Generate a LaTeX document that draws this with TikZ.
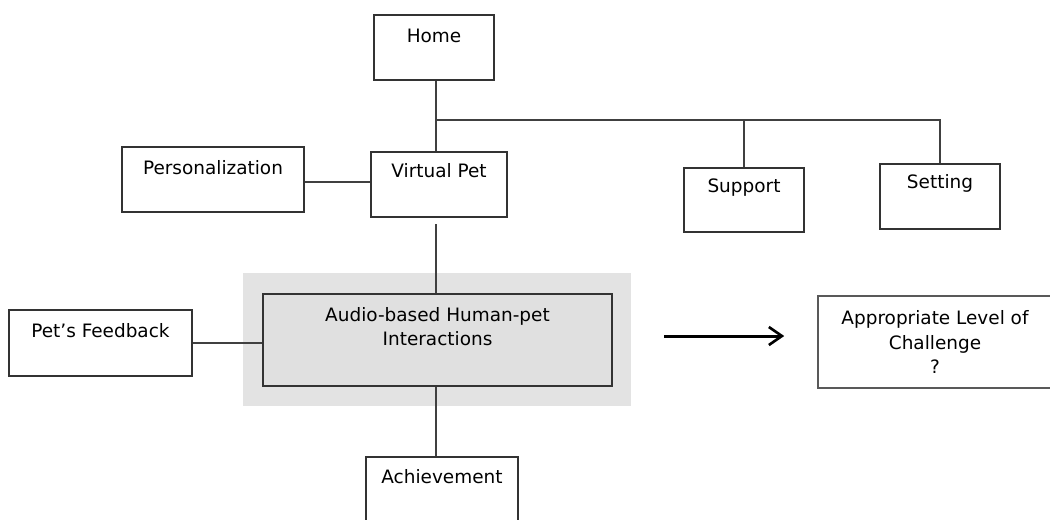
\documentclass[tikz,border=0pt]{standalone}
\usepackage{fontspec}
\setmainfont{DejaVu Sans}
\usetikzlibrary{arrows.meta}

\tikzset{
    box/.style={draw=black!80, line width=1.3pt, minimum height=1.3cm, inner sep=0pt},
    lbl/.style={anchor=center, inner sep=0pt, align=center, font=\fontsize{10.5}{13.9}\selectfont},
    link/.style={draw=black!75, line width=1pt},
    flow/.style={-{Straight Barb[length=2.6mm, width=3.6mm, line width=1.5pt]}, line width=1.7pt}
}

\begin{document}
\begin{tikzpicture}
    \clip (0,0) rectangle (21,-10.38);
    \fill[white] (0,0) rectangle (21,-10.38);
%____________________________________________________________________________________________________
    \node[box, minimum width=2.4cm, label={[lbl, yshift=-0.44cm]north:Home}] (home) at (8.68,-0.95) {};
    \node[box, minimum width=2.72cm, label={[lbl, yshift=-0.40cm]north:Virtual Pet}] (vpet) at (8.78,-3.69) {};
    \node[box, minimum width=3.64cm, label={[lbl, yshift=-0.44cm]north:Personalization}] (pers) at (4.26,-3.59) {};
    \node[box, minimum width=2.4cm, minimum height=1.28cm, label={[lbl, yshift=-0.42cm]north:Support}] (support) at (14.88,-4.0) {};
    \node[box, minimum width=2.4cm, label={[lbl, yshift=-0.42cm]north:Setting}] (setting) at (18.8,-3.93) {};
    \coordinate (branch) at (8.72,-2.4);
%____________________________________________________________________________________________________
    \node[fill=gray!22, minimum width=7.76cm, minimum height=2.66cm] (hilite) at (8.74,-6.79) {};
    \node[box, fill=gray!24, minimum width=6.98cm, minimum height=1.84cm,
          label={[lbl, yshift=-0.67cm]north:Audio-based Human-pet\\Interactions}] (audio) at (8.75,-6.8) {};
    \node[box, minimum width=3.66cm, minimum height=1.32cm, label={[lbl, yshift=-0.44cm]north:Pet’s Feedback}] (petfb) at (2.01,-6.86) {};
    \node[box, draw=black!65, line width=0.9pt, minimum width=4.68cm, minimum height=1.84cm,
          label={[lbl, yshift=-0.94cm]north:Appropriate Level of\\Challenge\\?}] (challenge) at (18.7,-6.84) {};
    \node[box, minimum width=3.04cm, label={[lbl, yshift=-0.42cm]north:Achievement}] (achieve) at (8.84,-9.79) {};
%____________________________________________________________________________________________________
    \draw[link] (home.south -| branch) -- (vpet.north -| branch);
    \draw[link] (branch) -| (setting.north);
    \draw[link] (support.north) -- (support.north |- branch);
    \draw[link] ([yshift=-0.05cm]pers.east) -- ([yshift=-0.05cm]pers.east -| vpet.west);
    \draw[link, shorten <=0.12cm] (vpet.south -| branch) -- (audio.north -| branch);
    \draw[link] (petfb.east) -- (petfb.east -| audio.west);
    \draw[link] (audio.south -| branch) -- (achieve.north -| branch);
    \draw[flow] ([xshift=1.02cm, yshift=0.08cm]audio.east) -- ([xshift=-0.66cm, yshift=0.12cm]challenge.west);
\end{tikzpicture}
\end{document}
